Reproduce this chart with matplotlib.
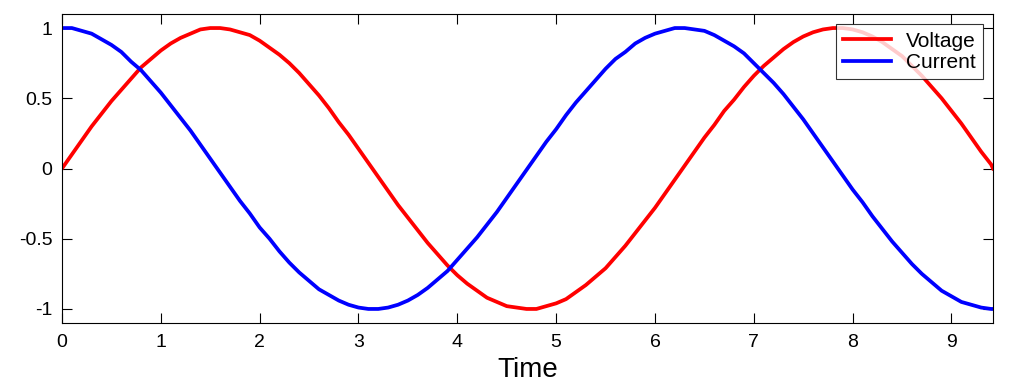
import matplotlib
matplotlib.use("Agg")
import matplotlib.pyplot as plt

# Sample times and readings taken off the reference curves
time = [0.0, 0.1, 0.2, 0.3, 0.4, 0.5, 0.6, 0.7, 0.8, 0.9,
        1.0, 1.1, 1.2, 1.3, 1.4, 1.5, 1.6, 1.7, 1.8, 1.9,
        2.0, 2.1, 2.2, 2.3, 2.4, 2.5, 2.6, 2.7, 2.8, 2.9,
        3.0, 3.1, 3.2, 3.3, 3.4, 3.5, 3.6, 3.7, 3.8, 3.9,
        4.0, 4.1, 4.2, 4.3, 4.4, 4.5, 4.6, 4.7, 4.8, 4.9,
        5.0, 5.1, 5.2, 5.3, 5.4, 5.5, 5.6, 5.7, 5.8, 5.9,
        6.0, 6.1, 6.2, 6.3, 6.4, 6.5, 6.6, 6.7, 6.8, 6.9,
        7.0, 7.1, 7.2, 7.3, 7.4, 7.5, 7.6, 7.7, 7.8, 7.9,
        8.0, 8.1, 8.2, 8.3, 8.4, 8.5, 8.6, 8.7, 8.8, 8.9,
        9.0, 9.1, 9.2, 9.3, 9.4, 9.42]

voltage = [0.00, 0.10, 0.20, 0.30, 0.39, 0.48, 0.56, 0.64, 0.72, 0.78,
           0.84, 0.89, 0.93, 0.96, 0.99, 1.00, 1.00, 0.99, 0.97, 0.95,
           0.91, 0.86, 0.81, 0.75, 0.68, 0.60, 0.52, 0.43, 0.33, 0.24,
           0.14, 0.04, -0.06, -0.16, -0.26, -0.35, -0.44, -0.53, -0.61, -0.69,
           -0.76, -0.82, -0.87, -0.92, -0.95, -0.98, -0.99, -1.00, -1.00, -0.98,
           -0.96, -0.93, -0.88, -0.83, -0.77, -0.71, -0.63, -0.55, -0.46, -0.37,
           -0.28, -0.18, -0.08, 0.02, 0.12, 0.22, 0.31, 0.41, 0.49, 0.58,
           0.66, 0.73, 0.79, 0.85, 0.90, 0.94, 0.97, 0.99, 1.00, 1.00,
           0.99, 0.97, 0.94, 0.90, 0.85, 0.80, 0.73, 0.66, 0.58, 0.50,
           0.41, 0.32, 0.22, 0.12, 0.03, 0.00]

current = [1.00, 1.00, 0.98, 0.96, 0.92, 0.88, 0.83, 0.76, 0.70, 0.62,
           0.54, 0.45, 0.36, 0.27, 0.17, 0.07, -0.03, -0.13, -0.23, -0.32,
           -0.42, -0.50, -0.59, -0.67, -0.74, -0.80, -0.86, -0.90, -0.94, -0.97,
           -0.99, -1.00, -1.00, -0.99, -0.97, -0.94, -0.90, -0.85, -0.79, -0.73,
           -0.65, -0.57, -0.49, -0.40, -0.31, -0.21, -0.11, -0.01, 0.09, 0.19,
           0.28, 0.38, 0.47, 0.55, 0.63, 0.71, 0.78, 0.83, 0.89, 0.93,
           0.96, 0.98, 1.00, 1.00, 0.99, 0.98, 0.95, 0.91, 0.87, 0.82,
           0.75, 0.68, 0.61, 0.53, 0.44, 0.35, 0.25, 0.15, 0.05, -0.05,
           -0.15, -0.24, -0.34, -0.43, -0.52, -0.60, -0.68, -0.75, -0.81, -0.87,
           -0.91, -0.95, -0.97, -0.99, -1.00, -1.00]

x_ticks = [0, 1, 2, 3, 4, 5, 6, 7, 8, 9]
y_ticks = [-1, -0.5, 0, 0.5, 1]
y_labels = ["-1", "-0.5", "0", "0.5", "1"]

plt.rcParams["font.family"] = ["Liberation Sans", "DejaVu Sans"]

fig = plt.figure(figsize=(10.23, 3.89), dpi=100)
ax = fig.add_axes([62 / 1023, 66 / 389, 931 / 1023, 309 / 389])

ax.plot(time, voltage, color="#ff0000", linewidth=2.7, label="Voltage",
        solid_joinstyle="round")
ax.plot(time, current, color="#0000ff", linewidth=2.7, label="Current",
        solid_joinstyle="round")

ax.set_xlim(0, 9.42)
ax.set_ylim(-1.1, 1.1)
ax.set_xticks(x_ticks)
ax.set_yticks(y_ticks)
ax.set_yticklabels(y_labels)
ax.tick_params(direction="in", length=7, width=0.8, labelsize=14,
               top=True, right=True)
ax.tick_params(axis="x", pad=8)
ax.tick_params(axis="y", pad=7)
for s in ax.spines.values():
    s.set_linewidth(0.8)
ax.set_xlabel("Time", fontsize=20, labelpad=4)

leg = ax.legend(loc="upper right", fontsize=15, frameon=True, fancybox=False,
                edgecolor="black", borderaxespad=0.5, handlelength=2.3,
                labelspacing=0.1, borderpad=0.35, handletextpad=0.7)
leg.get_frame().set_linewidth(0.8)

fig.savefig("out.png", dpi=100)
plt.close(fig)
